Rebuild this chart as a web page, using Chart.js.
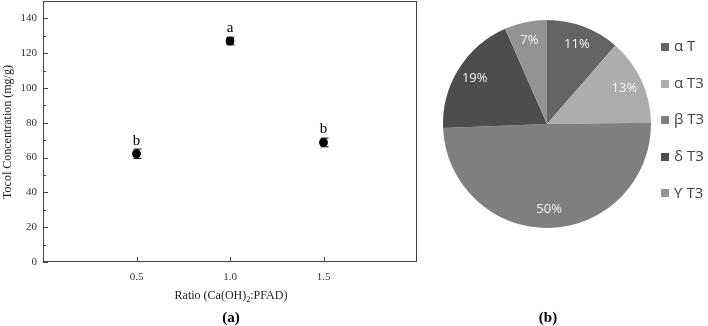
<!DOCTYPE html>
<html><head><meta charset="utf-8">
<script src="https://cdn.jsdelivr.net/npm/chart.js@4"></script>
<style>
html,body{margin:0;padding:0;background:#fff;}
#wrap{position:relative;width:708px;height:326px;overflow:hidden;background:#fff;}
#c1{position:absolute;left:0;top:0;}
#c2{position:absolute;left:420px;top:0;}
</style></head><body>
<div id="wrap"><canvas id="c1" width="420" height="326"></canvas><canvas id="c2" width="288" height="326"></canvas></div>
<script>
// ---- data ----
const ratios = [0.5, 1.0, 1.5];
const tocol = [62.2, 127.0, 68.7];
const tocolErr = [2.7, 2.2, 2.5];
const groupLetters = ['b', 'a', 'b'];
const yTicks = [0, 20, 40, 60, 80, 100, 120, 140];
const yMinorTicks = [10, 30, 50, 70, 90, 110, 130];
const xTicks = [0.5, 1.0, 1.5];
const pieLabels = ['α T', 'α T3', 'β T3', 'δ T3', 'ϒ T3'];
const pieValues = [11.4, 13.4, 49.6, 19.0, 6.6];
const pieColors = ['#646464', '#adadad', '#7f7f7f', '#4d4d4d', '#939393'];

const SERIF = '"Liberation Serif", "Times New Roman", serif';
const SANS = '"Open Sans", "DejaVu Sans", sans-serif';

function zeroPad(s) { s.paddingTop = 0; s.paddingBottom = 0; s.paddingLeft = 0; s.paddingRight = 0; }

// ---- left chart plugin ----
const leftDecor = {
  id: 'leftDecor',
  beforeDatasetsDraw(chart) {
    const ctx = chart.ctx, xs = chart.scales.x, ys = chart.scales.y;
    ctx.save();
    ctx.strokeStyle = '#000'; ctx.lineWidth = 1;
    ratios.forEach((r, i) => {
      const px = Math.round(xs.getPixelForValue(r)) + 0.5;
      const t = ys.getPixelForValue(tocol[i] + tocolErr[i]);
      const b = ys.getPixelForValue(tocol[i] - tocolErr[i]);
      ctx.beginPath();
      ctx.moveTo(px, t); ctx.lineTo(px, b);
      ctx.moveTo(px - 4, t); ctx.lineTo(px + 4, t);
      ctx.moveTo(px - 4, b); ctx.lineTo(px + 4, b);
      ctx.stroke();
    });
    ctx.restore();
  },
  afterDraw(chart) {
    const ctx = chart.ctx, a = chart.chartArea, xs = chart.scales.x, ys = chart.scales.y;
    ctx.save();
    ctx.strokeStyle = '#444'; ctx.lineWidth = 1;
    ctx.strokeRect(Math.round(a.left) + 0.5, Math.round(a.top) + 0.5, Math.round(a.right - a.left) - 1, Math.round(a.bottom - a.top) - 1);
    ctx.beginPath();
    yTicks.forEach(v => { const py = Math.round(ys.getPixelForValue(v)) + 0.5; ctx.moveTo(a.left, py); ctx.lineTo(a.left + 5, py); });
    yMinorTicks.forEach(v => { const py = Math.round(ys.getPixelForValue(v)) + 0.5; ctx.moveTo(a.left, py); ctx.lineTo(a.left + 3, py); });
    xTicks.forEach(v => { const px = Math.round(xs.getPixelForValue(v)) + 0.5; ctx.moveTo(px, a.bottom); ctx.lineTo(px, a.bottom - 5); });
    ctx.stroke();
    // group letters
    ctx.fillStyle = '#000';
    ctx.font = '15px ' + SERIF;
    ctx.textAlign = 'center'; ctx.textBaseline = 'middle';
    ratios.forEach((r, i) => {
      ctx.fillText(groupLetters[i], xs.getPixelForValue(r), ys.getPixelForValue(tocol[i]) - 13);
    });
    // y title
    ctx.fillStyle = '#222';
    ctx.font = '12px ' + SERIF;
    ctx.save();
    ctx.translate(8, 132);
    ctx.rotate(-Math.PI / 2);
    ctx.fillText('Tocol Concentration (mg/g)', 0, 0);
    ctx.restore();
    // x title with subscript
    const p1 = 'Ratio (Ca(OH)', sub = '2', p2 = ':PFAD)';
    ctx.font = '12px ' + SERIF;
    const w1 = ctx.measureText(p1).width, w3 = ctx.measureText(p2).width;
    ctx.font = '8px ' + SERIF;
    const w2 = ctx.measureText(sub).width;
    let x0 = 231 - (w1 + w2 + w3) / 2;
    ctx.textAlign = 'left'; ctx.textBaseline = 'alphabetic';
    ctx.font = '12px ' + SERIF;
    ctx.fillText(p1, x0, 299);
    ctx.font = '8px ' + SERIF;
    ctx.fillText(sub, x0 + w1, 302);
    ctx.font = '12px ' + SERIF;
    ctx.fillText(p2, x0 + w1 + w2, 299);
    // (a)
    ctx.fillStyle = '#000';
    ctx.font = 'bold 15px ' + SERIF;
    ctx.textAlign = 'center'; ctx.textBaseline = 'middle';
    ctx.fillText('(a)', 231, 318);
    ctx.restore();
  }
};

new Chart(document.getElementById('c1'), {
  type: 'scatter',
  data: { datasets: [{
    data: ratios.map((r, i) => ({ x: r, y: tocol[i] })),
    backgroundColor: '#000', borderColor: '#000',
    pointRadius: 4, pointHoverRadius: 4, showLine: false
  }]},
  options: {
    responsive: false, animation: false,
    layout: { autoPadding: false, padding: { top: 1, right: 3, left: 0, bottom: 0 } },
    plugins: { legend: { display: false }, tooltip: { enabled: false } },
    scales: {
      x: {
        type: 'linear', min: 0, max: 2,
        afterBuildTicks: s => { s.ticks = xTicks.map(v => ({ value: v })); },
        afterFit: s => { s.height = 64; zeroPad(s); },
        grid: { display: false, drawTicks: false },
        border: { display: false },
        ticks: { padding: 9, color: '#333', font: { family: SERIF, size: 11 }, callback: v => Number(v).toFixed(1) }
      },
      y: {
        type: 'linear', min: 0, max: 150,
        afterBuildTicks: s => { s.ticks = yTicks.map(v => ({ value: v })); },
        afterFit: s => { s.width = 43; zeroPad(s); },
        grid: { display: false, drawTicks: false },
        border: { display: false },
        ticks: { padding: 6, color: '#333', font: { family: SERIF, size: 11 } }
      }
    }
  },
  plugins: [leftDecor]
});

// ---- pie chart ----
const pieDecor = {
  id: 'pieDecor',
  afterDatasetsDraw(chart) {
    const ctx = chart.ctx;
    const meta = chart.getDatasetMeta(0);
    ctx.save();
    ctx.fillStyle = '#f4f4f4';
    ctx.font = '13px ' + SANS;
    ctx.textAlign = 'center'; ctx.textBaseline = 'middle';
    meta.data.forEach((arc, i) => {
      const mid = (arc.startAngle + arc.endAngle) / 2;
      const r = arc.outerRadius * 0.82;
      ctx.fillText(Math.round(pieValues[i]) + '%', arc.x + Math.cos(mid) * r, arc.y + Math.sin(mid) * r);
    });
    ctx.restore();
  },
  afterDraw(chart) {
    const ctx = chart.ctx;
    ctx.save();
    ctx.font = '15px ' + SANS;
    ctx.textAlign = 'left'; ctx.textBaseline = 'middle';
    pieLabels.forEach((lab, i) => {
      const y = 47 + i * 36.6;
      ctx.fillStyle = pieColors[i];
      ctx.fillRect(241, Math.round(y - 4), 8, 8);
      ctx.fillStyle = '#404040';
      ctx.fillText(lab, 254, y);
    });
    ctx.fillStyle = '#000';
    ctx.font = 'bold 15px ' + SERIF;
    ctx.textAlign = 'center';
    ctx.fillText('(b)', 128, 318);
    ctx.restore();
  }
};

new Chart(document.getElementById('c2'), {
  type: 'pie',
  data: { labels: pieLabels, datasets: [{
    data: pieValues, backgroundColor: pieColors, borderWidth: 0, radius: 104
  }]},
  options: {
    responsive: false, animation: false,
    layout: { padding: { top: 0, left: 0, right: 34, bottom: 78 } },
    plugins: { legend: { display: false }, tooltip: { enabled: false } }
  },
  plugins: [pieDecor]
});
</script>
</body></html>
